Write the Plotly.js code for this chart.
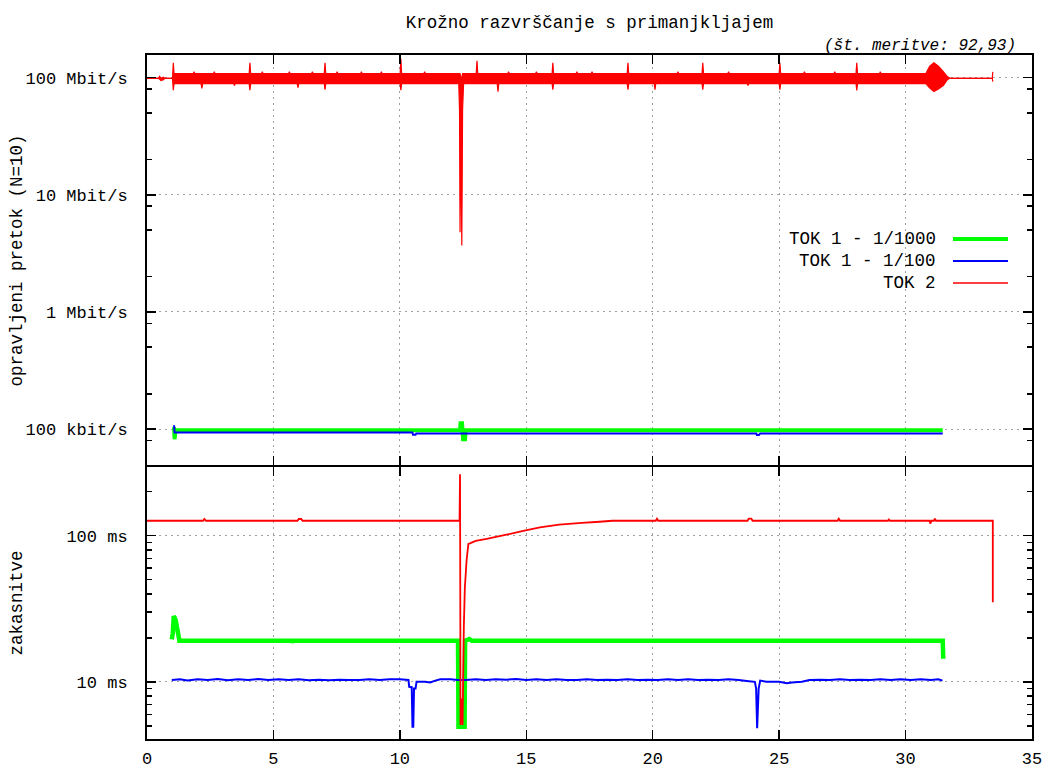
<!DOCTYPE html>
<html>
<head>
<meta charset="utf-8">
<script src="https://cdn.plot.ly/plotly-3.0.1.min.js"></script>
<style>
  html, body { margin: 0; padding: 0; background: #ffffff; }
  #chart { width: 1043px; height: 769px; }
</style>
</head>
<body>
<div id="chart"></div>
<script>
// ---- Throughput (upper panel), Mbit/s ----
// TOK 2: min/max envelope of the noisy throughput trace
const tok2RateTime = [0.00, 0.45, 0.50, 0.55, 0.65, 0.70, 1.01, 1.04, 1.07,
  1.83, 1.86, 1.89, 2.14, 2.17, 2.20, 2.63, 2.66, 2.69, 3.43, 3.46, 3.49, 4.04, 4.07, 4.10,
  4.53, 4.56, 4.59, 5.60, 5.63, 5.66, 5.94, 5.97, 6.00, 6.51, 6.54, 6.57, 7.01, 7.04, 7.07,
  7.49, 7.52, 7.55, 8.45, 8.48, 8.51, 9.24, 9.27, 9.30, 10.01, 10.04, 10.07, 10.95, 10.98, 11.01,
  12.33, 12.36, 12.38, 12.41, 12.45, 12.48, 12.52,
  13.02, 13.05, 13.08, 13.85, 13.88, 13.91, 14.27, 14.30, 14.33, 15.37, 15.40, 15.43,
  16.02, 16.05, 16.08, 16.97, 17.00, 17.03, 17.57, 17.60, 17.63, 18.99, 19.02, 19.05,
  20.06, 20.09, 20.12, 20.97, 21.00, 21.03, 21.95, 21.98, 22.01, 22.97, 23.00, 23.03,
  23.74, 23.77, 23.80, 25.00, 25.03, 25.06, 25.97, 26.00, 26.03, 27.17, 27.20, 27.23,
  28.04, 28.07, 28.10, 28.97, 29.00, 29.03,
  30.80, 30.95, 31.12, 31.30, 31.50, 31.65, 31.75, 33.43, 33.45];
const tok2RateHigh = [98.6, 98.6, 102.5, 98.6, 101, 98.6, 98.6, 134, 108,
  108, 112, 108, 108, 108, 108, 108, 112, 108, 108, 108, 108, 108, 134, 108,
  108, 112, 108, 108, 112, 108, 108, 108, 108, 108, 112, 108, 108, 134, 108,
  108, 112, 108, 108, 112, 108, 108, 112, 108, 108, 145, 108, 108, 112, 108,
  108, 108, 108, 100, 100, 108, 108,
  108, 139, 108, 108, 108, 108, 108, 112, 108, 108, 112, 108,
  108, 134, 108, 108, 112, 108, 108, 112, 108, 108, 134, 108,
  108, 108, 108, 108, 112, 108, 108, 134, 108, 108, 112, 108,
  108, 108, 108, 108, 134, 108, 108, 112, 108, 108, 112, 108,
  108, 134, 108, 108, 112, 108,
  108, 125, 134, 125, 112, 102, 98.6, 98.6, 112];
const tok2RateLow = [98.6, 98.6, 97, 94.5, 96, 98.6, 98.6, 78, 89,
  89, 89, 89, 89, 81, 89, 89, 89, 89, 89, 85.5, 89, 89, 78, 89,
  89, 89, 89, 89, 89, 89, 89, 82, 89, 89, 89, 89, 89, 79, 89,
  89, 89, 89, 89, 89, 89, 89, 89, 89, 89, 78, 89, 89, 89, 89,
  89, 53, 4.8, 45, 3.7, 53, 89,
  89, 89, 89, 89, 76, 89, 89, 89, 89, 89, 89, 89,
  89, 79, 89, 89, 89, 89, 89, 89, 89, 89, 79, 89,
  89, 79, 89, 89, 89, 89, 89, 79, 89, 89, 89, 89,
  89, 85.5, 89, 89, 79, 89, 89, 89, 89, 89, 89, 89,
  89, 77.6, 89, 89, 89, 89,
  89, 82, 76, 80, 86, 96, 98.6, 98.6, 92.5];

// TOK 1 - 1/1000
const tok1SlowRateTime = [1.07, 1.09, 1.13, 12.38, 12.40, 12.46, 12.50, 12.58, 12.60, 31.47];
const tok1SlowRate = [0.104, 0.082, 0.098, 0.098, 0.112, 0.112, 0.082, 0.082, 0.098, 0.098];

// TOK 1 - 1/100
const tok1FastRateTime = [1.07, 1.09, 10.50, 10.52, 10.62, 10.65, 24.10, 24.12, 24.20, 24.25, 31.47];
const tok1FastRate = [0.108, 0.0937, 0.0937, 0.0895, 0.0895, 0.092, 0.092, 0.089, 0.089, 0.092, 0.092];

// ---- Delay (lower panel), ms ----
const tok2DelayTime = [0.00, 2.22, 2.27, 2.33, 5.95, 6.00, 6.10, 6.15, 12.36, 12.38, 12.40, 12.45, 12.48, 12.53,
  12.57, 12.64, 12.71, 12.77, 13.00, 13.43, 14.22, 14.88, 15.54, 16.30, 17.20, 17.90, 18.40,
  20.12, 20.17, 20.22, 23.75, 23.80, 23.90, 23.95, 27.31, 27.36, 27.41, 29.30, 29.34, 29.38,
  30.95, 30.98, 31.02, 31.12, 31.16, 31.20, 33.45, 33.45];
const tok2Delay = [126.5, 126.5, 130, 126.5, 126.5, 130, 130, 126.5, 126.5, 263, 5.07, 7.7, 5.07, 23.7,
  44, 68, 87.7, 88.5, 92, 95, 101.6, 108, 114, 119, 122.5, 124.5, 126.5,
  126.5, 130.7, 126.5, 126.5, 130.7, 130.7, 126.5, 126.5, 130.7, 126.5, 126.5, 129, 126.5,
  126.5, 121, 126.5, 126.5, 130.7, 126.5, 126.5, 35.1];

const tok1SlowDelayTime = [0.98, 1.02, 1.06, 1.13, 1.22, 1.28, 5.70, 5.72, 5.75, 12.30, 12.32, 12.56, 12.58, 12.75, 12.85, 31.47, 31.49];
const tok1SlowDelay = [19.5, 21.5, 28.2, 26.5, 22, 19.1, 19.1, 18.6, 19.1, 19.1, 4.93, 4.93, 19.1, 19.6, 19.1, 19.1, 14.4];

const tok1FastDelayTime = [0.98, 1.3, 1.6, 2.0, 2.4, 2.8, 3.2, 3.6, 4.0, 4.4, 4.8, 5.2, 5.6, 6.0, 6.4, 6.8, 7.2, 7.6,
  8.0, 8.4, 8.8, 9.2, 9.6, 10.0, 10.34, 10.37, 10.47, 10.50, 10.53, 10.56, 10.62, 10.66, 11.0, 11.2, 11.4,
  11.6, 12.0, 12.3, 12.6, 13.0, 13.4, 13.8, 14.2, 14.6, 15.0, 15.4, 15.8, 16.2, 16.6, 17.0, 17.4, 17.8,
  18.2, 18.6, 19.0, 19.4, 19.8, 20.2, 20.6, 21.0, 21.4, 21.8, 22.2, 22.6, 23.0, 23.4, 23.8, 24.04, 24.09,
  24.13, 24.19, 24.25, 24.5, 25.0, 25.3, 25.5, 25.9, 26.2, 26.6, 27.0, 27.4, 27.8, 28.2, 28.6, 29.0, 29.4,
  29.8, 30.2, 30.6, 31.0, 31.3, 31.46];
const tok1FastDelay = [10.3, 10.4, 10.2, 10.4, 10.3, 10.45, 10.25, 10.4, 10.3, 10.45, 10.3, 10.4, 10.3, 10.4, 10.25, 10.35, 10.25, 10.35,
  10.3, 10.3, 10.4, 10.3, 10.4, 10.4, 10.3, 9.25, 9.2, 4.93, 4.93, 9.0, 9.0, 10.0, 10.0, 9.9, 10.2,
  10.4, 10.4, 10.3, 10.3, 10.4, 10.3, 10.4, 10.35, 10.45, 10.3, 10.4, 10.3, 10.4, 10.3, 10.3, 10.4, 10.3,
  10.35, 10.3, 10.4, 10.3, 10.35, 10.3, 10.4, 10.3, 10.4, 10.3, 10.35, 10.3, 10.4, 10.3, 10.1, 10.0, 9.0,
  4.81, 9.0, 10.2, 10.0, 10.0, 9.8, 9.9, 10.0, 10.3, 10.35, 10.3, 10.4, 10.3, 10.35, 10.3, 10.4, 10.3,
  10.4, 10.3, 10.4, 10.3, 10.4, 10.2];

// ---- Axis labels ----
const rateTickVals = [0.1, 1, 10, 100];
const rateTickText = ['100 kbit/s', '1 Mbit/s', '10 Mbit/s', '100 Mbit/s'];
const delayTickVals = [10, 100];
const delayTickText = ['10 ms', '100 ms'];
const seriesNames = ['TOK 1 - 1/1000', 'TOK 1 - 1/100', 'TOK 2'];
const seriesColors = ['#00ff00', '#0000ff', '#ff0000'];

const FONT = 'Liberation Mono, DejaVu Sans Mono, monospace';
const GRID = '#a0a0a0';

// minor ticks: 2, 5, 8 per decade on the throughput axis, 2..9 on the delay axis
const rateMinor = [];
[0.01, 0.1, 1, 10, 100].forEach(d => [2, 5, 8].forEach(m => rateMinor.push(m * d)));
const delayMinor = [];
[1, 10, 100].forEach(d => [2, 3, 4, 5, 6, 7, 8, 9].forEach(m => delayMinor.push(m * d)));

const traces = [
  { x: tok1SlowRateTime, y: tok1SlowRate, xaxis: 'x', yaxis: 'y', mode: 'lines',
    line: { color: seriesColors[0], width: 4 } },
  { x: tok1FastRateTime, y: tok1FastRate, xaxis: 'x', yaxis: 'y', mode: 'lines',
    line: { color: seriesColors[1], width: 2 } },
  { x: tok2RateTime, y: tok2RateLow, xaxis: 'x', yaxis: 'y', mode: 'lines',
    line: { color: seriesColors[2], width: 1.2, simplify: false } },
  { x: tok2RateTime, y: tok2RateHigh, xaxis: 'x', yaxis: 'y', mode: 'lines', fill: 'tonexty',
    fillcolor: seriesColors[2], line: { color: seriesColors[2], width: 1.2, simplify: false } },

  { x: tok1SlowDelayTime, y: tok1SlowDelay, xaxis: 'x2', yaxis: 'y2', mode: 'lines',
    line: { color: seriesColors[0], width: 4.5, simplify: false } },
  { x: tok1FastDelayTime, y: tok1FastDelay, xaxis: 'x2', yaxis: 'y2', mode: 'lines',
    line: { color: seriesColors[1], width: 2, simplify: false } },
  { x: tok2DelayTime, y: tok2Delay, xaxis: 'x2', yaxis: 'y2', mode: 'lines',
    line: { color: seriesColors[2], width: 1.8, simplify: false } }
];

function xAxis(anchor, labels) {
  return {
    anchor: anchor, domain: [0, 1], range: [0, 35], tick0: 0, dtick: 5,
    showticklabels: labels, ticks: 'inside', ticklen: 9, tickwidth: 1.5, tickcolor: '#000',
    showline: true, linecolor: '#000', linewidth: 2, mirror: 'allticks', zeroline: false,
    showgrid: true, gridcolor: GRID, gridwidth: 1, griddash: '2px,4px',
    ticklabelstandoff: 3, tickfont: { family: FONT, size: 17, color: '#000' }
  };
}
function yAxis(anchor, domain, range, vals, text, minorVals) {
  return {
    anchor: anchor, domain: domain, type: 'log', range: range,
    tickmode: 'array', tickvals: vals, ticktext: text,
    ticks: 'inside', ticklen: 9, tickwidth: 1.5, tickcolor: '#000',
    minor: { tickmode: 'array', tickvals: minorVals, ticks: 'inside', ticklen: 5, tickwidth: 1.5, tickcolor: '#000', showgrid: false },
    showline: true, linecolor: '#000', linewidth: 2, mirror: 'allticks', zeroline: false,
    showgrid: true, gridcolor: GRID, gridwidth: 1, griddash: '2px,4px',
    ticklabelstandoff: 14, tickfont: { family: FONT, size: 17, color: '#000' }
  };
}

// panel geometry in paper units; the two domains overlap slightly so the
// shared border lines of both panels fall on the same pixel row
const topStart = 0.4006, bottomEnd = 0.3977;
const legendTextX = 0.8938, legendLineX0 = 0.9107, legendLineX1 = 0.9729;
const legendRowsY = [0.7310, 0.6988, 0.6667];
const legendWidths = [4, 2, 1.5];

const annotations = [
  { text: '<i>(št. meritve: 92,93)</i>', xref: 'paper', yref: 'paper', x: 0.9842, y: 1.0132,
    xanchor: 'right', yanchor: 'middle', showarrow: false, font: { family: FONT, size: 16, color: '#000' } },
  { text: 'opravljeni pretok (N=10)', xref: 'paper', yref: 'paper', x: -0.1469, y: 0.6996, textangle: -90,
    xanchor: 'center', yanchor: 'middle', showarrow: false, font: { family: FONT, size: 17.5, color: '#000' } },
  { text: 'zakasnitve', xref: 'paper', yref: 'paper', x: -0.1469, y: 0.1996, textangle: -90,
    xanchor: 'center', yanchor: 'middle', showarrow: false, font: { family: FONT, size: 17.5, color: '#000' } }
];
const shapes = [];
seriesNames.forEach((name, i) => {
  annotations.push({ text: name, xref: 'paper', yref: 'paper', x: legendTextX, y: legendRowsY[i],
    xanchor: 'right', yanchor: 'middle', showarrow: false, font: { family: FONT, size: 17.5, color: '#000' } });
  shapes.push({ type: 'line', xref: 'paper', yref: 'paper', x0: legendLineX0, x1: legendLineX1,
    y0: legendRowsY[i], y1: legendRowsY[i], line: { color: seriesColors[i], width: legendWidths[i] } });
});

const layout = {
  width: 1043, height: 769,
  margin: { l: 147, r: 11, t: 55, b: 30, pad: 0 },
  paper_bgcolor: '#ffffff', plot_bgcolor: '#ffffff',
  showlegend: false,
  font: { family: FONT, size: 17, color: '#000' },
  title: { text: 'Krožno razvrščanje s primanjkljajem', x: 0.5, xref: 'paper', xanchor: 'center',
    y: 0.9714, yref: 'container', yanchor: 'middle', font: { family: FONT, size: 17.5, color: '#000' } },
  xaxis: xAxis('y', false),
  xaxis2: xAxis('y2', true),
  yaxis: yAxis('x', [topStart, 1], [-1.306, 2.193], rateTickVals, rateTickText, rateMinor),
  yaxis2: yAxis('x2', [0, bottomEnd], [0.609, 2.470], delayTickVals, delayTickText, delayMinor),
  annotations: annotations,
  shapes: shapes
};

Plotly.newPlot('chart', traces, layout, { staticPlot: true, displayModeBar: false });
</script>
</body>
</html>
